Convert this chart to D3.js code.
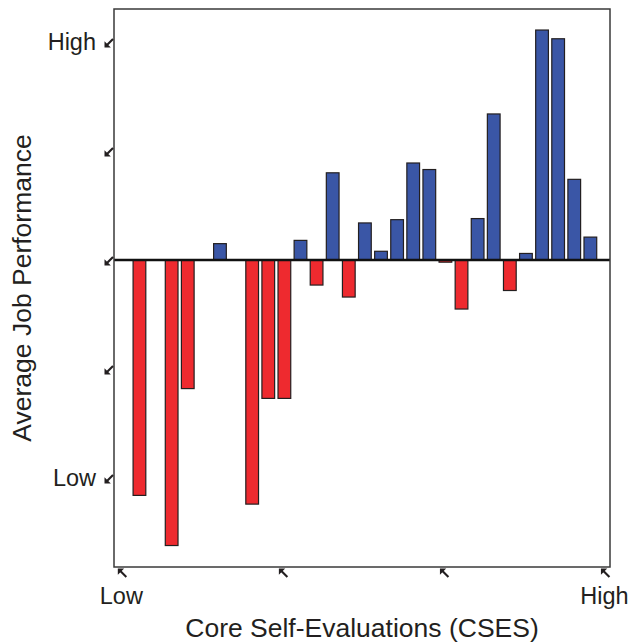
<!DOCTYPE html>
<html>
<head>
<meta charset="utf-8">
<script src="https://cdn.jsdelivr.net/npm/d3@7"></script>
<style>
  html, body { margin: 0; padding: 0; background: #fff; }
  svg { display: block; }
  text { font-family: "Liberation Sans", Arial, sans-serif; fill: #231f20; }
</style>
</head>
<body>
<svg id="chart" width="630" height="642"></svg>
<script>
// ---- data ----
const categories = d3.range(1, 30);              // CSES groups 1..29
const values = [-2.16, null, -2.62, -1.18, null, 0.15, null, -2.24, -1.27, -1.27,
                 0.18, -0.23, 0.80, -0.34, 0.34, 0.08, 0.37, 0.89, 0.83, -0.02,
                -0.45, 0.38, 1.34, -0.28, 0.06, 2.11, 2.03, 0.74, 0.21];
const yTickValues = [-2, -1, 0, 1, 2];
const yTickLabels = ["Low", "", "", "", "High"];
const xTickValues = [0, 10, 20, 30];
const xTickLabels = ["Low", "", "", "High"];
const xTitle = "Core Self-Evaluations (CSES)";
const yTitle = "Average Job Performance";

// ---- layout ----
const svg = d3.select("#chart");
const mLeft = 114, mRight = 610, mTop = 9, mBottom = 567;
const x = d3.scaleLinear().domain([-0.58, 30.22]).range([mLeft, mRight]);
const y = d3.scaleLinear().domain([-2.817, 2.303]).range([mBottom, mTop]);
const barW = 0.79; // in data units

const red = "#ee2a2f", blue = "#3a56a6", ink = "#231f20";

const data = categories.map((c, i) => ({ c, v: values[i] })).filter(d => d.v !== null);

// bars
svg.append("g").selectAll("rect").data(data).join("rect")
  .attr("x", d => x(d.c - barW / 2))
  .attr("width", d => x(d.c + barW / 2) - x(d.c - barW / 2))
  .attr("y", d => y(Math.max(0, d.v)))
  .attr("height", d => Math.abs(y(d.v) - y(0)))
  .attr("fill", d => d.v >= 0 ? blue : red)
  .attr("stroke", ink)
  .attr("stroke-width", 1.2);

// zero line
svg.append("line")
  .attr("x1", mLeft).attr("x2", mRight)
  .attr("y1", y(0)).attr("y2", y(0))
  .attr("stroke", "#111").attr("stroke-width", 2.5);

// frame
svg.append("rect")
  .attr("x", mLeft).attr("y", mTop)
  .attr("width", mRight - mLeft).attr("height", mBottom - mTop)
  .attr("fill", "none").attr("stroke", "#3a3a3a").attr("stroke-width", 1.5);

// y-axis arrow ticks (pointing down-left)
const yTicks = svg.append("g");
yTickValues.forEach((v, i) => {
  const g = yTicks.append("g").attr("transform", `translate(109,${y(v) + 1})`);
  g.append("path").attr("d", "M-4.5,4.5 L1.8,4.5 L-4.5,-1.8 Z").attr("fill", ink);
  g.append("line").attr("x1", -2).attr("y1", 2).attr("x2", 4).attr("y2", -4)
    .attr("stroke", ink).attr("stroke-width", 2.1);
  if (yTickLabels[i]) {
    yTicks.append("text")
      .attr("x", 96).attr("y", y(v) + 8)
      .attr("text-anchor", "end")
      .attr("font-size", 23.5)
      .text(yTickLabels[i]);
  }
});

// x-axis arrow ticks (pointing up-left)
const xTicks = svg.append("g");
xTickValues.forEach((v, i) => {
  const g = xTicks.append("g").attr("transform", `translate(${x(v) - 1},573)`);
  g.append("path").attr("d", "M-4.5,-4.5 L1.8,-4.5 L-4.5,1.8 Z").attr("fill", ink);
  g.append("line").attr("x1", -2).attr("y1", -2).attr("x2", 4).attr("y2", 4)
    .attr("stroke", ink).attr("stroke-width", 2.1);
  if (xTickLabels[i]) {
    xTicks.append("text")
      .attr("x", x(v) - 2).attr("y", 604)
      .attr("text-anchor", "middle")
      .attr("font-size", 23.5)
      .text(xTickLabels[i]);
  }
});

// axis titles
svg.append("text")
  .attr("x", 362).attr("y", 637)
  .attr("text-anchor", "middle")
  .attr("font-size", 26.5)
  .text(xTitle);

svg.append("text")
  .attr("transform", "translate(31,288) rotate(-90)")
  .attr("text-anchor", "middle")
  .attr("font-size", 26.5)
  .text(yTitle);
</script>
</body>
</html>
